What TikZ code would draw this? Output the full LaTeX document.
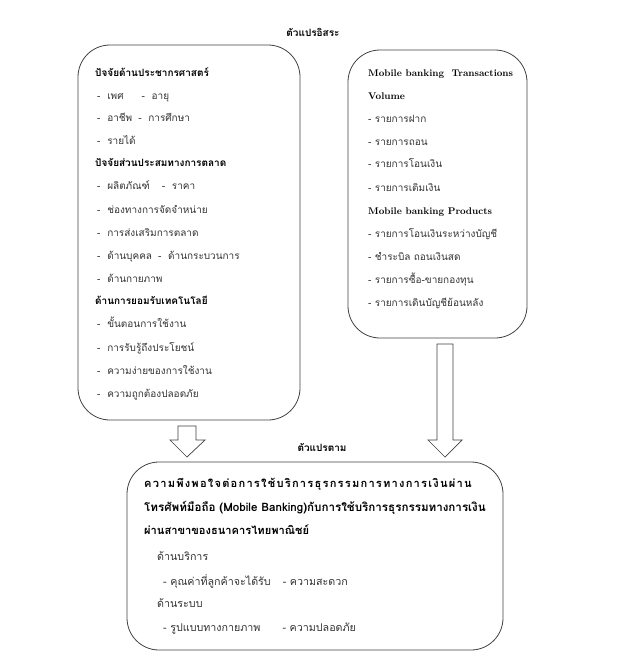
\documentclass[tikz,border=0pt]{standalone}
\usepackage{fontspec}
\newfontfamily\thai[Script=Thai]{Loma}
\newfontfamily\thaisp[Script=Thai,LetterSpace=11]{Loma}
\begin{document}
\begin{tikzpicture}[x=1pt,y=-1pt,
  box/.style={draw=black!75, line width=0.8pt, rounded corners=32pt},
  barrow/.style={draw=black!75, line width=0.7pt, fill=white},
  txt/.style={anchor=base west, inner sep=0pt, text=black!80, font=\thai\fontsize{10}{12}\selectfont},
  btxt/.style={txt, font=\thai\fontsize{10.7}{12}\selectfont},
  hd/.style={anchor=base west, inner sep=0pt, text=black, font=\thai\bfseries\fontsize{10}{12}\selectfont},
  bhd/.style={hd, font=\thai\bfseries\fontsize{11.1}{13}\selectfont},
  eng/.style={anchor=base west, inner sep=0pt, text=black, font=\rmfamily\bfseries\fontsize{9.7}{11}\selectfont},
  ttl/.style={anchor=base, inner sep=0pt, text=black, font=\thai\bfseries\fontsize{10}{12}\selectfont}]
\useasboundingbox (0,0) rectangle (634,667);
% boxes
\draw[box] (78,45) rectangle (300,420);
\draw[box] (348,50) rectangle (527,338);
\draw[box] (127,462) rectangle (503,650);
% titles
\node[ttl] (t1) at (313,36) {ตัวแปรอิสระ};
\node[ttl] (t2) at (322,451) {ตัวแปรตาม};
% left box
\node[hd]  (l1)  at (95,76)  {ปัจจัยด้านประชากรศาสตร์};
\node[txt] (l2)  at (97,99)  {-\ \ เพศ\hspace{18pt}-\ \ อายุ};
\node[txt] (l3)  at (97,121) {-\ \ อาชีพ\hspace{6pt}-\ \ การศึกษา};
\node[txt] (l4)  at (97,144) {-\ \ รายได้};
\node[hd]  (l5)  at (95,166) {ปัจจัยส่วนประสมทางการตลาด};
\node[txt] (l6)  at (97,189) {-\ \ ผลิตภัณฑ์\hspace{12pt}-\ \ ราคา};
\node[txt] (l7)  at (97,213) {-\ \ ช่องทางการจัดจำหน่าย};
\node[txt] (l8)  at (97,236) {-\ \ การส่งเสริมการตลาด};
\node[txt] (l9)  at (97,259) {-\ \ ด้านบุคคล\hspace{6pt}-\ \ ด้านกระบวนการ};
\node[txt] (l10) at (97,282) {-\ \ ด้านกายภาพ};
\node[hd]  (l11) at (95,304) {ด้านการยอมรับเทคโนโลยี};
\node[txt] (l12) at (97,327) {-\ \ ขั้นตอนการใช้งาน};
\node[txt] (l13) at (97,351) {-\ \ การรับรู้ถึงประโยชน์};
\node[txt] (l14) at (97,374) {-\ \ ความง่ายของการใช้งาน};
\node[txt] (l15) at (97,397) {-\ \ ความถูกต้องปลอดภัย};
% right box
\node[eng] (r1)  at (368,76)  {Mobile banking\ \ Transactions};
\node[eng] (r2)  at (368,99)  {Volume};
\node[txt] (r3)  at (368,122) {- รายการฝาก};
\node[txt] (r4)  at (368,145) {- รายการถอน};
\node[txt] (r5)  at (368,167) {- รายการโอนเงิน};
\node[txt] (r6)  at (368,191) {- รายการเติมเงิน};
\node[eng] (r7)  at (368,214) {Mobile banking Products};
\node[txt] (r8)  at (368,237) {- รายการโอนเงินระหว่างบัญชี};
\node[txt] (r9)  at (368,260) {- ชำระบิล ถอนเงินสด};
\node[txt] (r10) at (368,283) {- รายการซื้อ-ขายกองทุน};
\node[txt] (r11) at (368,306) {- รายการเดินบัญชีย้อนหลัง};
% bottom box
\node[bhd, font=\thaisp\bfseries\fontsize{11.1}{13}\selectfont] (b1) at (144,487) {ความพึงพอใจต่อการใช้บริการธุรกรรมการทางการเงินผ่าน};
\node[bhd, font=\thai\bfseries\fontsize{11.6}{13}\selectfont] (b2) at (144,511) {โทรศัพท์มือถือ (Mobile Banking)กับการใช้บริการธุรกรรมทางการเงิน};
\node[bhd] (b3) at (144,534) {ผ่านสาขาของธนาคารไทยพาณิชย์};
\node[btxt] (b4) at (157,560) {ด้านบริการ};
\node[btxt] (b5) at (163,585) {- คุณค่าที่ลูกค้าจะได้รับ\hspace{12pt}- ความสะดวก};
\node[btxt] (b6) at (157,607) {ด้านระบบ};
\node[btxt] (b7) at (163,631) {- รูปแบบทางกายภาพ\hspace{22pt}- ความปลอดภัย};
% block arrows
\draw[barrow] (178,426) -- (196,426) -- (196,440) -- (205,440) -- (187,457) -- (170,440) -- (178,440) -- cycle;
\draw[barrow] (437,344) -- (453,344) -- (453,440) -- (462,440) -- (445,457) -- (428,440) -- (437,440) -- cycle;
\end{tikzpicture}
\end{document}
